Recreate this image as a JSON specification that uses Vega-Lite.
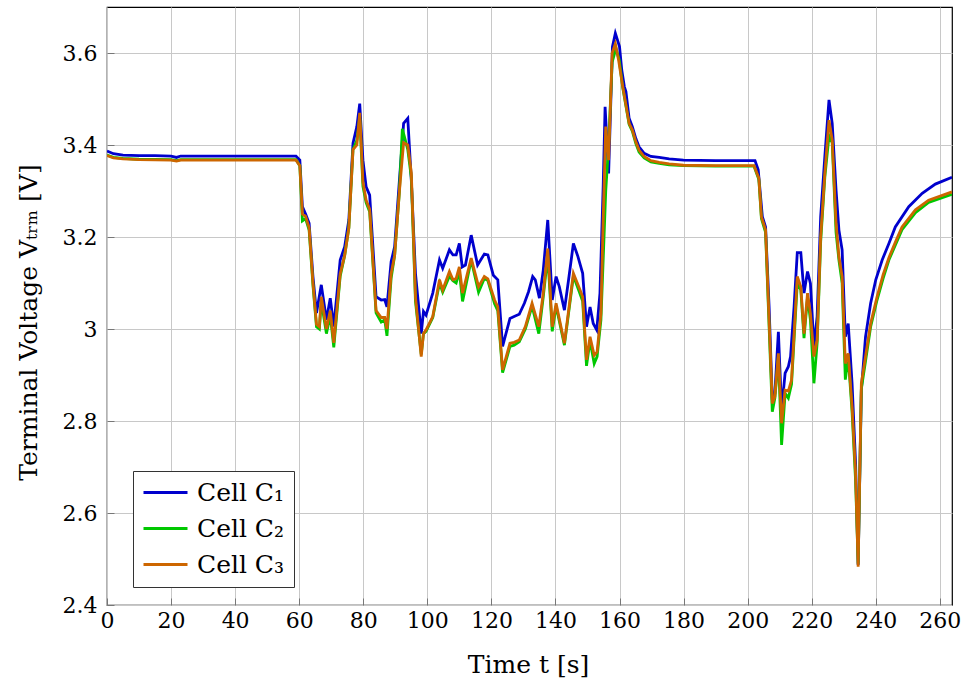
{
  "$schema": "https://vega.github.io/schema/vega-lite/v6.json",
  "width": 845,
  "height": 598,
  "autosize": "none",
  "padding": {"left": 107, "top": 7, "right": 14, "bottom": 79},
  "background": "white",
  "data": {"values": [
{"c":"Cell C₁","t":0,"v":3.387},{"c":"Cell C₁","t":2,"v":3.381},{"c":"Cell C₁","t":5,"v":3.378},{"c":"Cell C₁","t":10,"v":3.377},{"c":"Cell C₁","t":15,"v":3.377},{"c":"Cell C₁","t":20,"v":3.376},{"c":"Cell C₁","t":21.7,"v":3.373},{"c":"Cell C₁","t":23,"v":3.376},{"c":"Cell C₁","t":30,"v":3.376},{"c":"Cell C₁","t":40,"v":3.376},{"c":"Cell C₁","t":50,"v":3.376},{"c":"Cell C₁","t":59,"v":3.376},{"c":"Cell C₁","t":60.2,"v":3.367},{"c":"Cell C₁","t":61,"v":3.266},{"c":"Cell C₁","t":62,"v":3.25},{"c":"Cell C₁","t":63.1,"v":3.23},{"c":"Cell C₁","t":64.3,"v":3.114},{"c":"Cell C₁","t":65.4,"v":3.035},{"c":"Cell C₁","t":66.9,"v":3.096},{"c":"Cell C₁","t":68.5,"v":3.02},{"c":"Cell C₁","t":69.7,"v":3.067},{"c":"Cell C₁","t":70.8,"v":3.005},{"c":"Cell C₁","t":72.8,"v":3.15},{"c":"Cell C₁","t":74.2,"v":3.179},{"c":"Cell C₁","t":75.5,"v":3.237},{"c":"Cell C₁","t":76.8,"v":3.404},{"c":"Cell C₁","t":78,"v":3.44},{"c":"Cell C₁","t":78.9,"v":3.49},{"c":"Cell C₁","t":79.9,"v":3.367},{"c":"Cell C₁","t":80.9,"v":3.309},{"c":"Cell C₁","t":82,"v":3.291},{"c":"Cell C₁","t":84,"v":3.07},{"c":"Cell C₁","t":85.6,"v":3.063},{"c":"Cell C₁","t":86.7,"v":3.064},{"c":"Cell C₁","t":87.4,"v":3.048},{"c":"Cell C₁","t":88.7,"v":3.146},{"c":"Cell C₁","t":89.8,"v":3.179},{"c":"Cell C₁","t":91.3,"v":3.324},{"c":"Cell C₁","t":92.6,"v":3.447},{"c":"Cell C₁","t":93.9,"v":3.458},{"c":"Cell C₁","t":95,"v":3.324},{"c":"Cell C₁","t":96.3,"v":3.121},{"c":"Cell C₁","t":98.1,"v":2.99},{"c":"Cell C₁","t":98.8,"v":3.038},{"c":"Cell C₁","t":99.6,"v":3.03},{"c":"Cell C₁","t":101.7,"v":3.078},{"c":"Cell C₁","t":103.8,"v":3.15},{"c":"Cell C₁","t":104.8,"v":3.132},{"c":"Cell C₁","t":106.9,"v":3.172},{"c":"Cell C₁","t":108,"v":3.161},{"c":"Cell C₁","t":109,"v":3.161},{"c":"Cell C₁","t":110,"v":3.186},{"c":"Cell C₁","t":110.9,"v":3.135},{"c":"Cell C₁","t":111.9,"v":3.139},{"c":"Cell C₁","t":113.7,"v":3.204},{"c":"Cell C₁","t":115.7,"v":3.139},{"c":"Cell C₁","t":117.8,"v":3.163},{"c":"Cell C₁","t":118.9,"v":3.161},{"c":"Cell C₁","t":120.6,"v":3.117},{"c":"Cell C₁","t":122,"v":3.107},{"c":"Cell C₁","t":123.5,"v":2.962},{"c":"Cell C₁","t":125.8,"v":3.023},{"c":"Cell C₁","t":127.1,"v":3.027},{"c":"Cell C₁","t":128.7,"v":3.032},{"c":"Cell C₁","t":130.3,"v":3.056},{"c":"Cell C₁","t":131.6,"v":3.081},{"c":"Cell C₁","t":132.9,"v":3.114},{"c":"Cell C₁","t":133.7,"v":3.107},{"c":"Cell C₁","t":135,"v":3.067},{"c":"Cell C₁","t":136.2,"v":3.128},{"c":"Cell C₁","t":137.6,"v":3.237},{"c":"Cell C₁","t":139,"v":3.063},{"c":"Cell C₁","t":140.2,"v":3.114},{"c":"Cell C₁","t":141.2,"v":3.092},{"c":"Cell C₁","t":142.8,"v":3.041},{"c":"Cell C₁","t":144.1,"v":3.107},{"c":"Cell C₁","t":145.6,"v":3.186},{"c":"Cell C₁","t":147,"v":3.158},{"c":"Cell C₁","t":148.5,"v":3.121},{"c":"Cell C₁","t":149.7,"v":3.005},{"c":"Cell C₁","t":150.8,"v":3.048},{"c":"Cell C₁","t":151.8,"v":3.012},{"c":"Cell C₁","t":152.9,"v":2.998},{"c":"Cell C₁","t":153.9,"v":3.078},{"c":"Cell C₁","t":154.9,"v":3.309},{"c":"Cell C₁","t":155.5,"v":3.483},{"c":"Cell C₁","t":156.6,"v":3.338},{"c":"Cell C₁","t":157.8,"v":3.614},{"c":"Cell C₁","t":158.7,"v":3.643},{"c":"Cell C₁","t":160,"v":3.614},{"c":"Cell C₁","t":160.7,"v":3.563},{"c":"Cell C₁","t":161.5,"v":3.527},{"c":"Cell C₁","t":162,"v":3.516},{"c":"Cell C₁","t":163,"v":3.458},{"c":"Cell C₁","t":164,"v":3.44},{"c":"Cell C₁","t":165.1,"v":3.414},{"c":"Cell C₁","t":166.1,"v":3.396},{"c":"Cell C₁","t":167.7,"v":3.382},{"c":"Cell C₁","t":169.8,"v":3.375},{"c":"Cell C₁","t":172.4,"v":3.373},{"c":"Cell C₁","t":175.5,"v":3.37},{"c":"Cell C₁","t":180,"v":3.367},{"c":"Cell C₁","t":190,"v":3.366},{"c":"Cell C₁","t":202.3,"v":3.366},{"c":"Cell C₁","t":203.3,"v":3.346},{"c":"Cell C₁","t":204.6,"v":3.244},{"c":"Cell C₁","t":205.6,"v":3.222},{"c":"Cell C₁","t":206.7,"v":3.048},{"c":"Cell C₁","t":207.7,"v":2.846},{"c":"Cell C₁","t":208.5,"v":2.86},{"c":"Cell C₁","t":209.6,"v":2.994},{"c":"Cell C₁","t":210.6,"v":2.824},{"c":"Cell C₁","t":211.7,"v":2.904},{"c":"Cell C₁","t":212.7,"v":2.918},{"c":"Cell C₁","t":213.4,"v":2.94},{"c":"Cell C₁","t":214.5,"v":3.048},{"c":"Cell C₁","t":215.5,"v":3.166},{"c":"Cell C₁","t":216.6,"v":3.166},{"c":"Cell C₁","t":217.6,"v":3.078},{"c":"Cell C₁","t":218.7,"v":3.125},{"c":"Cell C₁","t":219.6,"v":3.099},{"c":"Cell C₁","t":220.7,"v":2.962},{"c":"Cell C₁","t":221.7,"v":3.027},{"c":"Cell C₁","t":222.8,"v":3.244},{"c":"Cell C₁","t":224.1,"v":3.375},{"c":"Cell C₁","t":225.4,"v":3.498},{"c":"Cell C₁","t":226.4,"v":3.447},{"c":"Cell C₁","t":227.6,"v":3.302},{"c":"Cell C₁","t":228.5,"v":3.215},{"c":"Cell C₁","t":229.5,"v":3.172},{"c":"Cell C₁","t":230.5,"v":2.983},{"c":"Cell C₁","t":231.4,"v":3.012},{"c":"Cell C₁","t":232.6,"v":2.882},{"c":"Cell C₁","t":233.7,"v":2.708},{"c":"Cell C₁","t":234.5,"v":2.487},{"c":"Cell C₁","t":235.5,"v":2.867},{"c":"Cell C₁","t":236.8,"v":2.983},{"c":"Cell C₁","t":238.4,"v":3.056},{"c":"Cell C₁","t":240,"v":3.107},{"c":"Cell C₁","t":242,"v":3.15},{"c":"Cell C₁","t":244.1,"v":3.186},{"c":"Cell C₁","t":246.1,"v":3.222},{"c":"Cell C₁","t":250.3,"v":3.266},{"c":"Cell C₁","t":254.5,"v":3.295},{"c":"Cell C₁","t":258.6,"v":3.315},{"c":"Cell C₁","t":263.8,"v":3.33},
{"c":"Cell C₂","t":0,"v":3.378},{"c":"Cell C₂","t":2,"v":3.373},{"c":"Cell C₂","t":5,"v":3.371},{"c":"Cell C₂","t":10,"v":3.369},{"c":"Cell C₂","t":20,"v":3.368},{"c":"Cell C₂","t":21.7,"v":3.366},{"c":"Cell C₂","t":23,"v":3.368},{"c":"Cell C₂","t":30,"v":3.368},{"c":"Cell C₂","t":40,"v":3.368},{"c":"Cell C₂","t":50,"v":3.368},{"c":"Cell C₂","t":59,"v":3.368},{"c":"Cell C₂","t":60.2,"v":3.355},{"c":"Cell C₂","t":61,"v":3.235},{"c":"Cell C₂","t":62,"v":3.24},{"c":"Cell C₂","t":63.1,"v":3.215},{"c":"Cell C₂","t":64.3,"v":3.095},{"c":"Cell C₂","t":65.4,"v":3.005},{"c":"Cell C₂","t":66.3,"v":3.0},{"c":"Cell C₂","t":66.9,"v":3.06},{"c":"Cell C₂","t":68.5,"v":2.99},{"c":"Cell C₂","t":69.7,"v":3.03},{"c":"Cell C₂","t":70.8,"v":2.96},{"c":"Cell C₂","t":72.8,"v":3.115},{"c":"Cell C₂","t":74.2,"v":3.16},{"c":"Cell C₂","t":75.5,"v":3.22},{"c":"Cell C₂","t":76.8,"v":3.39},{"c":"Cell C₂","t":78,"v":3.41},{"c":"Cell C₂","t":78.9,"v":3.46},{"c":"Cell C₂","t":79.9,"v":3.31},{"c":"Cell C₂","t":80.9,"v":3.275},{"c":"Cell C₂","t":82,"v":3.255},{"c":"Cell C₂","t":84,"v":3.035},{"c":"Cell C₂","t":85.6,"v":3.015},{"c":"Cell C₂","t":86.7,"v":3.02},{"c":"Cell C₂","t":87.4,"v":2.985},{"c":"Cell C₂","t":88.7,"v":3.11},{"c":"Cell C₂","t":89.8,"v":3.16},{"c":"Cell C₂","t":91.3,"v":3.3},{"c":"Cell C₂","t":92.2,"v":3.435},{"c":"Cell C₂","t":93.9,"v":3.39},{"c":"Cell C₂","t":95,"v":3.33},{"c":"Cell C₂","t":96.3,"v":3.06},{"c":"Cell C₂","t":98.1,"v":2.945},{"c":"Cell C₂","t":98.8,"v":2.99},{"c":"Cell C₂","t":99.6,"v":2.995},{"c":"Cell C₂","t":101.7,"v":3.025},{"c":"Cell C₂","t":103.8,"v":3.1},{"c":"Cell C₂","t":104.8,"v":3.08},{"c":"Cell C₂","t":106.9,"v":3.115},{"c":"Cell C₂","t":108,"v":3.105},{"c":"Cell C₂","t":109,"v":3.1},{"c":"Cell C₂","t":110,"v":3.125},{"c":"Cell C₂","t":111,"v":3.06},{"c":"Cell C₂","t":113.7,"v":3.15},{"c":"Cell C₂","t":116,"v":3.08},{"c":"Cell C₂","t":117.8,"v":3.11},{"c":"Cell C₂","t":118.9,"v":3.105},{"c":"Cell C₂","t":121,"v":3.055},{"c":"Cell C₂","t":122,"v":3.04},{"c":"Cell C₂","t":123.5,"v":2.905},{"c":"Cell C₂","t":125.8,"v":2.962},{"c":"Cell C₂","t":127.1,"v":2.965},{"c":"Cell C₂","t":128.7,"v":2.972},{"c":"Cell C₂","t":130.6,"v":3.0},{"c":"Cell C₂","t":132.7,"v":3.05},{"c":"Cell C₂","t":134.8,"v":2.99},{"c":"Cell C₂","t":136.2,"v":3.07},{"c":"Cell C₂","t":137.6,"v":3.16},{"c":"Cell C₂","t":139,"v":2.995},{"c":"Cell C₂","t":140.2,"v":3.05},{"c":"Cell C₂","t":142.8,"v":2.965},{"c":"Cell C₂","t":145.6,"v":3.115},{"c":"Cell C₂","t":147.5,"v":3.08},{"c":"Cell C₂","t":148.5,"v":3.06},{"c":"Cell C₂","t":149.7,"v":2.92},{"c":"Cell C₂","t":150.8,"v":2.975},{"c":"Cell C₂","t":152.1,"v":2.925},{"c":"Cell C₂","t":153,"v":2.94},{"c":"Cell C₂","t":154.2,"v":3.02},{"c":"Cell C₂","t":155.7,"v":3.3},{"c":"Cell C₂","t":156.6,"v":3.4},{"c":"Cell C₂","t":157.7,"v":3.58},{"c":"Cell C₂","t":158.9,"v":3.61},{"c":"Cell C₂","t":159.9,"v":3.585},{"c":"Cell C₂","t":161,"v":3.525},{"c":"Cell C₂","t":163,"v":3.445},{"c":"Cell C₂","t":164,"v":3.43},{"c":"Cell C₂","t":165.1,"v":3.403},{"c":"Cell C₂","t":166.1,"v":3.385},{"c":"Cell C₂","t":167.7,"v":3.372},{"c":"Cell C₂","t":169.8,"v":3.363},{"c":"Cell C₂","t":172.4,"v":3.36},{"c":"Cell C₂","t":175.5,"v":3.357},{"c":"Cell C₂","t":180,"v":3.355},{"c":"Cell C₂","t":190,"v":3.354},{"c":"Cell C₂","t":202,"v":3.354},{"c":"Cell C₂","t":203.5,"v":3.325},{"c":"Cell C₂","t":204.3,"v":3.24},{"c":"Cell C₂","t":205.6,"v":3.21},{"c":"Cell C₂","t":207.7,"v":2.82},{"c":"Cell C₂","t":208.5,"v":2.85},{"c":"Cell C₂","t":209.6,"v":2.94},{"c":"Cell C₂","t":210.6,"v":2.748},{"c":"Cell C₂","t":211.7,"v":2.86},{"c":"Cell C₂","t":212.7,"v":2.85},{"c":"Cell C₂","t":213.7,"v":2.88},{"c":"Cell C₂","t":215.5,"v":3.1},{"c":"Cell C₂","t":216.6,"v":3.085},{"c":"Cell C₂","t":217.6,"v":2.98},{"c":"Cell C₂","t":218.7,"v":3.07},{"c":"Cell C₂","t":219.6,"v":3.02},{"c":"Cell C₂","t":220.7,"v":2.882},{"c":"Cell C₂","t":221.7,"v":2.97},{"c":"Cell C₂","t":222.8,"v":3.19},{"c":"Cell C₂","t":224.1,"v":3.33},{"c":"Cell C₂","t":225.4,"v":3.42},{"c":"Cell C₂","t":226.4,"v":3.405},{"c":"Cell C₂","t":227.6,"v":3.21},{"c":"Cell C₂","t":228.5,"v":3.15},{"c":"Cell C₂","t":229.5,"v":3.1},{"c":"Cell C₂","t":230.5,"v":2.89},{"c":"Cell C₂","t":231.4,"v":2.94},{"c":"Cell C₂","t":232.6,"v":2.82},{"c":"Cell C₂","t":233.7,"v":2.67},{"c":"Cell C₂","t":234.5,"v":2.49},{"c":"Cell C₂","t":235.5,"v":2.87},{"c":"Cell C₂","t":236.8,"v":2.93},{"c":"Cell C₂","t":238.4,"v":3.005},{"c":"Cell C₂","t":240.4,"v":3.063},{"c":"Cell C₂","t":242.3,"v":3.11},{"c":"Cell C₂","t":244.1,"v":3.15},{"c":"Cell C₂","t":246.2,"v":3.184},{"c":"Cell C₂","t":248.2,"v":3.216},{"c":"Cell C₂","t":252.4,"v":3.253},{"c":"Cell C₂","t":256.5,"v":3.275},{"c":"Cell C₂","t":263.8,"v":3.293},
{"c":"Cell C₃","t":0,"v":3.377},{"c":"Cell C₃","t":2,"v":3.372},{"c":"Cell C₃","t":5,"v":3.37},{"c":"Cell C₃","t":10,"v":3.368},{"c":"Cell C₃","t":20,"v":3.367},{"c":"Cell C₃","t":21.7,"v":3.365},{"c":"Cell C₃","t":23,"v":3.367},{"c":"Cell C₃","t":30,"v":3.367},{"c":"Cell C₃","t":40,"v":3.367},{"c":"Cell C₃","t":50,"v":3.367},{"c":"Cell C₃","t":59,"v":3.367},{"c":"Cell C₃","t":60.2,"v":3.355},{"c":"Cell C₃","t":61,"v":3.25},{"c":"Cell C₃","t":62,"v":3.245},{"c":"Cell C₃","t":63.1,"v":3.22},{"c":"Cell C₃","t":64.3,"v":3.1},{"c":"Cell C₃","t":65.4,"v":3.01},{"c":"Cell C₃","t":66.3,"v":3.005},{"c":"Cell C₃","t":66.9,"v":3.07},{"c":"Cell C₃","t":68.5,"v":3.0},{"c":"Cell C₃","t":69.7,"v":3.04},{"c":"Cell C₃","t":70.8,"v":2.97},{"c":"Cell C₃","t":72.8,"v":3.12},{"c":"Cell C₃","t":74.2,"v":3.16},{"c":"Cell C₃","t":75.5,"v":3.22},{"c":"Cell C₃","t":76.8,"v":3.39},{"c":"Cell C₃","t":78,"v":3.4},{"c":"Cell C₃","t":78.9,"v":3.47},{"c":"Cell C₃","t":79.9,"v":3.32},{"c":"Cell C₃","t":80.9,"v":3.28},{"c":"Cell C₃","t":82,"v":3.26},{"c":"Cell C₃","t":84,"v":3.04},{"c":"Cell C₃","t":85.6,"v":3.025},{"c":"Cell C₃","t":86.7,"v":3.025},{"c":"Cell C₃","t":87.4,"v":3.0},{"c":"Cell C₃","t":88.7,"v":3.12},{"c":"Cell C₃","t":89.8,"v":3.16},{"c":"Cell C₃","t":91.3,"v":3.3},{"c":"Cell C₃","t":92.6,"v":3.405},{"c":"Cell C₃","t":93.9,"v":3.4},{"c":"Cell C₃","t":95,"v":3.34},{"c":"Cell C₃","t":96.3,"v":3.07},{"c":"Cell C₃","t":98.1,"v":2.94},{"c":"Cell C₃","t":98.8,"v":2.99},{"c":"Cell C₃","t":99.6,"v":2.998},{"c":"Cell C₃","t":101.7,"v":3.027},{"c":"Cell C₃","t":103.8,"v":3.107},{"c":"Cell C₃","t":104.8,"v":3.085},{"c":"Cell C₃","t":106.9,"v":3.125},{"c":"Cell C₃","t":108,"v":3.107},{"c":"Cell C₃","t":109,"v":3.11},{"c":"Cell C₃","t":110,"v":3.135},{"c":"Cell C₃","t":111,"v":3.078},{"c":"Cell C₃","t":113.7,"v":3.154},{"c":"Cell C₃","t":116,"v":3.092},{"c":"Cell C₃","t":117.8,"v":3.114},{"c":"Cell C₃","t":118.9,"v":3.109},{"c":"Cell C₃","t":121,"v":3.063},{"c":"Cell C₃","t":122,"v":3.048},{"c":"Cell C₃","t":123.5,"v":2.911},{"c":"Cell C₃","t":125.8,"v":2.969},{"c":"Cell C₃","t":127.1,"v":2.971},{"c":"Cell C₃","t":128.7,"v":2.976},{"c":"Cell C₃","t":130.6,"v":3.005},{"c":"Cell C₃","t":132.7,"v":3.056},{"c":"Cell C₃","t":134.8,"v":3.005},{"c":"Cell C₃","t":136.2,"v":3.078},{"c":"Cell C₃","t":137.6,"v":3.175},{"c":"Cell C₃","t":139,"v":3.005},{"c":"Cell C₃","t":140.2,"v":3.056},{"c":"Cell C₃","t":142.8,"v":2.969},{"c":"Cell C₃","t":145.6,"v":3.121},{"c":"Cell C₃","t":147.5,"v":3.088},{"c":"Cell C₃","t":148.5,"v":3.07},{"c":"Cell C₃","t":149.7,"v":2.933},{"c":"Cell C₃","t":150.8,"v":2.983},{"c":"Cell C₃","t":152.1,"v":2.943},{"c":"Cell C₃","t":153,"v":2.95},{"c":"Cell C₃","t":154.2,"v":3.034},{"c":"Cell C₃","t":154.9,"v":3.237},{"c":"Cell C₃","t":155.7,"v":3.44},{"c":"Cell C₃","t":156.6,"v":3.367},{"c":"Cell C₃","t":157.7,"v":3.6},{"c":"Cell C₃","t":158.7,"v":3.62},{"c":"Cell C₃","t":159.7,"v":3.585},{"c":"Cell C₃","t":161,"v":3.527},{"c":"Cell C₃","t":163,"v":3.447},{"c":"Cell C₃","t":164,"v":3.433},{"c":"Cell C₃","t":165.1,"v":3.407},{"c":"Cell C₃","t":166.1,"v":3.389},{"c":"Cell C₃","t":167.7,"v":3.375},{"c":"Cell C₃","t":169.8,"v":3.366},{"c":"Cell C₃","t":172.4,"v":3.362},{"c":"Cell C₃","t":175.5,"v":3.359},{"c":"Cell C₃","t":180,"v":3.356},{"c":"Cell C₃","t":190,"v":3.355},{"c":"Cell C₃","t":202,"v":3.355},{"c":"Cell C₃","t":203.5,"v":3.328},{"c":"Cell C₃","t":204.3,"v":3.244},{"c":"Cell C₃","t":205.6,"v":3.215},{"c":"Cell C₃","t":207.7,"v":2.838},{"c":"Cell C₃","t":208.5,"v":2.853},{"c":"Cell C₃","t":209.6,"v":2.947},{"c":"Cell C₃","t":210.6,"v":2.795},{"c":"Cell C₃","t":211.7,"v":2.867},{"c":"Cell C₃","t":212.7,"v":2.865},{"c":"Cell C₃","t":213.7,"v":2.889},{"c":"Cell C₃","t":215.5,"v":3.114},{"c":"Cell C₃","t":216.6,"v":3.092},{"c":"Cell C₃","t":217.6,"v":2.99},{"c":"Cell C₃","t":218.7,"v":3.078},{"c":"Cell C₃","t":219.6,"v":3.034},{"c":"Cell C₃","t":220.7,"v":2.94},{"c":"Cell C₃","t":221.7,"v":2.976},{"c":"Cell C₃","t":222.8,"v":3.2},{"c":"Cell C₃","t":224.1,"v":3.338},{"c":"Cell C₃","t":225.4,"v":3.454},{"c":"Cell C₃","t":226.4,"v":3.411},{"c":"Cell C₃","t":227.6,"v":3.23},{"c":"Cell C₃","t":228.5,"v":3.157},{"c":"Cell C₃","t":229.5,"v":3.114},{"c":"Cell C₃","t":230.5,"v":2.925},{"c":"Cell C₃","t":231.4,"v":2.947},{"c":"Cell C₃","t":232.6,"v":2.831},{"c":"Cell C₃","t":233.7,"v":2.686},{"c":"Cell C₃","t":234.5,"v":2.483},{"c":"Cell C₃","t":235.5,"v":2.882},{"c":"Cell C₃","t":236.8,"v":2.94},{"c":"Cell C₃","t":238.4,"v":3.012},{"c":"Cell C₃","t":240.4,"v":3.07},{"c":"Cell C₃","t":242.3,"v":3.118},{"c":"Cell C₃","t":244.1,"v":3.155},{"c":"Cell C₃","t":246.2,"v":3.19},{"c":"Cell C₃","t":248.2,"v":3.222},{"c":"Cell C₃","t":252.4,"v":3.259},{"c":"Cell C₃","t":256.5,"v":3.28},{"c":"Cell C₃","t":263.8,"v":3.298}
  ]},
  "mark": {"type": "line", "strokeWidth": 2.8, "clip": true},
  "encoding": {
    "x": {
      "field": "t", "type": "quantitative",
      "scale": {"domain": [0, 263.8], "nice": false, "zero": false},
      "axis": {"values": [0,20,40,60,80,100,120,140,160,180,200,220,240,260], "title": "Time t [s]", "labelPadding": 12, "labelFlush": false, "labelOverlap": false, "titleX": 421, "titleY": 67, "titleBaseline": "alphabetic"}
    },
    "y": {
      "field": "v", "type": "quantitative",
      "scale": {"domain": [2.4, 3.7], "nice": false, "zero": false},
      "axis": {"values": [2.4,2.6,2.8,3.0,3.2,3.4,3.6], "format": ".1~f", "title": "Terminal Voltage Vₜᵣₘ [V]", "labelPadding": 17, "labelOverlap": false, "titleX": -71, "titleY": 315, "titleAngle": -90, "titleAlign": "center", "titleBaseline": "alphabetic"}
    },
    "color": {
      "field": "c", "type": "nominal",
      "scale": {"domain": ["Cell C₁", "Cell C₂", "Cell C₃"], "range": ["#0000CD", "#00C800", "#CD6600"]},
      "legend": {"orient": "none", "legendX": 26, "legendY": 464, "title": null}
    }
  },
  "config": {
    "font": "DejaVu Serif",
    "view": {"stroke": "black", "strokeWidth": 1.2},
    "axis": {"grid": true, "gridColor": "#c8c8c8", "gridWidth": 1, "domain": false, "ticks": true, "tickSize": -7, "tickColor": "#777777", "tickWidth": 1, "labelFont": "DejaVu Serif", "labelFontSize": 22, "labelColor": "black", "titleFont": "DejaVu Serif", "titleFontSize": 25, "titleFontWeight": "normal", "titleColor": "black"},
    "legend": {"fillColor": "white", "strokeColor": "#333333", "padding": 9, "symbolType": "M-1,0H3", "symbolSize": 484, "symbolStrokeWidth": 2.8, "labelFont": "DejaVu Serif", "labelFontSize": 25, "labelColor": "black", "rowPadding": 10, "labelOffset": 30, "cornerRadius": 0}
  }
}
